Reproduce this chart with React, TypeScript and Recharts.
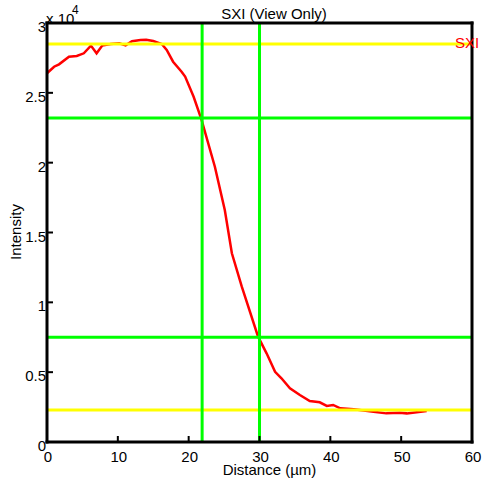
import React from "react";
import { LineChart, Line, XAxis, YAxis, ReferenceLine } from "recharts";

// profile sampled along the line (distance in µm, raw intensity counts)
const distance = [
  0, 1.0, 1.7, 3.1, 4.2, 5.2, 6.2, 7.0, 7.8, 9.0, 10.2, 11.1, 12.0, 13.2, 14.0,
  15.0, 16.2, 16.9, 17.8, 19.0, 19.5, 20.7, 21.8, 23.7, 25.1, 26.1, 27.5, 29.8,
  31.0, 32.2, 33.1, 34.3, 35.7, 37.1, 38.5, 39.5, 40.4, 41.4, 43.3, 46.1, 47.9,
  49.8, 50.8, 53.6,
];
const intensity = [
  26400, 26870, 27040, 27590, 27640, 27830, 28380, 27830, 28380, 28500, 28550,
  28400, 28700, 28780, 28800, 28710, 28500, 28070, 27230, 26510, 26160, 24720,
  23100, 19710, 16610, 13510, 11120, 7540, 6350, 5030, 4560, 3845, 3365, 2935,
  2840, 2580, 2650, 2410, 2340, 2170, 2050, 2100, 2050, 2220,
];

const xTicks = [0, 10, 20, 30, 40, 50, 60];
const yTicks = [0, 5000, 10000, 15000, 20000, 25000, 30000];

// markers: green = 80% / 20% levels and their crossings, yellow = max / min
const greenX = [21.9, 30];
const greenY = [23200, 7500];
const yellowY = [28500, 2300];

const data = distance.map((d, i) => ({ d, v: intensity[i] }));

const FONT = "'Liberation Sans', Arial, sans-serif";
const W = 483;
const H = 482;

// tick text sits 6px inside the axis (inward ticks), so offsets are relative to that
const XTick = (props: any) => {
  const { x, y, payload } = props;
  return (
    <text x={x + 1} y={y + 26} textAnchor="middle" fontSize={15} fill="#000" fontFamily={FONT}>
      {payload.value}
    </text>
  );
};

const YTick = (props: any) => {
  const { x, y, payload } = props;
  return (
    <text x={x - 7} y={y + 9} textAnchor="end" fontSize={15} fill="#000" fontFamily={FONT}>
      {payload.value / 10000}
    </text>
  );
};

const axisLine = { stroke: "#000", strokeWidth: 3, strokeLinecap: "square" as const };
const tickLine = { stroke: "#000", strokeWidth: 2 };

export default function App() {
  return (
    <div style={{ position: "absolute", left: 0, top: 0, width: W, height: H, background: "#fff" }}>
      <LineChart width={W} height={H} data={data} margin={{ top: 0, right: 0, bottom: 0, left: 0 }}>
        <XAxis
          dataKey="d"
          type="number"
          domain={[0, 60]}
          ticks={xTicks}
          height={40}
          tickSize={-6}
          tickMargin={0}
          axisLine={axisLine}
          tickLine={tickLine}
          tick={<XTick />}
          interval={0}
        />
        <XAxis
          xAxisId="top"
          dataKey="d"
          orientation="top"
          type="number"
          domain={[0, 60]}
          ticks={xTicks}
          height={23}
          tickSize={-6}
          axisLine={axisLine}
          tickLine={tickLine}
          tick={false}
          interval={0}
        />
        <YAxis
          type="number"
          domain={[0, 30000]}
          ticks={yTicks}
          width={47}
          tickSize={-6}
          tickMargin={0}
          axisLine={axisLine}
          tickLine={tickLine}
          tick={<YTick />}
          interval={0}
        />
        <YAxis
          yAxisId="right"
          orientation="right"
          type="number"
          domain={[0, 30000]}
          ticks={yTicks}
          width={11}
          tickSize={-6}
          axisLine={axisLine}
          tickLine={tickLine}
          tick={false}
          interval={0}
        />
        {/* invisible copy so the top/right frame axes have a series */}
        <Line
          xAxisId="top"
          yAxisId="right"
          type="linear"
          dataKey="v"
          stroke="none"
          dot={false}
          isAnimationActive={false}
        />
        <Line
          type="linear"
          dataKey="v"
          stroke="#ff0000"
          strokeWidth={2.5}
          dot={false}
          isAnimationActive={false}
        />
        {yellowY.map((v) => (
          <ReferenceLine key={"yy" + v} y={v} stroke="#ffff00" strokeWidth={3} />
        ))}
        {greenY.map((v) => (
          <ReferenceLine key={"gy" + v} y={v} stroke="#00ff00" strokeWidth={3} />
        ))}
        {greenX.map((v) => (
          <ReferenceLine key={"gx" + v} x={v} stroke="#00ff00" strokeWidth={3} />
        ))}
      </LineChart>

      <svg
        width={W}
        height={H}
        style={{ position: "absolute", left: 0, top: 0, pointerEvents: "none" }}
        fontFamily={FONT}
      >
        <text x={274} y={19} textAnchor="middle" fontSize={15} fill="#000">
          SXI (View Only)
        </text>
        <text x={46} y={24} fontSize={15} fill="#000">
          x 10
        </text>
        <text x={72} y={14} fontSize={12} fill="#000">
          4
        </text>
        <text x={269.5} y={475} textAnchor="middle" fontSize={15} fill="#000">
          Distance (µm)
        </text>
        <text x={21} y={232} textAnchor="middle" fontSize={15} fill="#000" transform="rotate(-90 21 232)">
          Intensity
        </text>
        <text x={455} y={48} fontSize={15} fill="#ff0000">
          SXI
        </text>
      </svg>
    </div>
  );
}
